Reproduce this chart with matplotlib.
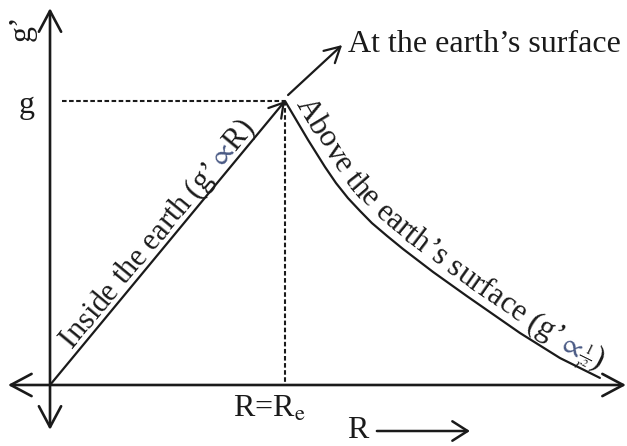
import matplotlib
matplotlib.use("Agg")
import matplotlib.pyplot as plt
import numpy as np
from matplotlib.font_manager import FontProperties

plt.rcParams["font.family"] = ["Liberation Serif", "DejaVu Serif"]
plt.rcParams["mathtext.fontset"] = "stix"

# g' against distance from the centre (R in units of R_e, g' in units of g)
r_inside = [0.0, 1.0]
g_inside = [0.0, 1.0]
r_above = [1.0, 1.098, 1.170, 1.217, 1.268, 1.319, 1.370, 1.434, 1.502,
           1.630, 1.774, 2.000, 2.170, 2.340]
g_above = [1.0, 0.863, 0.768, 0.711, 0.658, 0.613, 0.570, 0.525, 0.479,
           0.398, 0.313, 0.183, 0.095, 0.025]

INK = "#1a1a1a"
BLUE = "#4a5a85"
FS = 23
FS_PATH = 22.5

fig = plt.figure(figsize=(6.27, 4.46), dpi=100)
ax = fig.add_axes([0, 0, 1, 1])
ax.set_xlim(-0.2128, 2.4553)
ax.set_ylim(-0.2148, 1.3556)
ax.axis("off")

# axes with arrow heads
axis_style = "<->,head_length=0.75,head_width=0.4"
ax.annotate("", xy=(2.451, 0), xytext=(-0.179, 0),
            arrowprops=dict(arrowstyle=axis_style, lw=1.9, color=INK,
                            mutation_scale=20, shrinkA=0, shrinkB=0))
ax.annotate("", xy=(0, 1.327), xytext=(0, -0.158),
            arrowprops=dict(arrowstyle=axis_style, lw=1.9, color=INK,
                            mutation_scale=20, shrinkA=0, shrinkB=0))

# guide lines to the peak
ax.plot([0.05, 1.0], [1.0, 1.0], color=INK, lw=1.5, ls=(0, (2.2, 1.2)))
ax.plot([1.0, 1.0], [1.0, 0.0], color=INK, lw=1.5, ls=(0, (2.2, 1.2)))

# inside the earth: straight line up to the surface
ax.annotate("", xy=(r_inside[1], g_inside[1]), xytext=(r_inside[0], g_inside[0]),
            arrowprops=dict(arrowstyle="->,head_length=0.5,head_width=0.3", lw=1.6,
                            color=INK, mutation_scale=20, shrinkA=0, shrinkB=0))
# above the surface
ax.plot(r_above, g_above, color=INK, lw=1.6, solid_capstyle="round",
        solid_joinstyle="round")

# pointer to the surface value
ax.annotate("", xy=(1.243, 1.197), xytext=(1.013, 1.021),
            arrowprops=dict(arrowstyle="->,head_length=0.55,head_width=0.3", lw=1.6,
                            color=INK, mutation_scale=20, shrinkA=0, shrinkB=0))
ax.text(1.268, 1.173, "At the earth\u2019s surface", fontsize=FS, color=INK,
        ha="left", va="baseline")

ax.text(-0.1, 0.958, "g", fontsize=FS, color=INK, ha="center", va="baseline")
ax.text(-0.119, 1.257, "g\u2019", fontsize=FS, color=INK, ha="center", va="center",
        rotation=90)
ax.text(0.935, -0.113, "R=R$_\\mathrm{e}$", fontsize=FS, color=INK, ha="center",
        va="baseline")
ax.text(1.264, -0.187, "R", fontsize=FS, color=INK, ha="left", va="baseline")
ax.annotate("", xy=(1.787, -0.162), xytext=(1.391, -0.162),
            arrowprops=dict(arrowstyle="->,head_length=0.55,head_width=0.35", lw=1.8,
                            color=INK, mutation_scale=20, shrinkA=0, shrinkB=0))


def text_along(xs, ys, pieces, start, offset):
    fig.canvas.draw()
    renderer = fig.canvas.get_renderer()
    pts = ax.transData.transform(np.column_stack([xs, ys]))
    seg = np.diff(pts, axis=0)
    seglen = np.hypot(seg[:, 0], seg[:, 1])
    cum = np.concatenate([[0], np.cumsum(seglen)])

    def point_at(s):
        i = int(np.clip(np.searchsorted(cum, s) - 1, 0, len(seg) - 1))
        t = (s - cum[i]) / seglen[i]
        return pts[i] + t * seg[i]

    def width(txt, prop, math):
        if math:
            return renderer.get_text_width_height_descent(txt, prop, ismath=True)[0]
        w2 = renderer.get_text_width_height_descent("|" + txt + "|", prop, ismath=False)[0]
        w0 = renderer.get_text_width_height_descent("||", prop, ismath=False)[0]
        return w2 - w0

    inv = ax.transData.inverted()
    s = start
    for txt, size, color, math in pieces:
        prop = FontProperties(family=["Liberation Serif", "DejaVu Serif"], size=size)
        w = width(txt, prop, math)
        mid = s + w / 2
        d = point_at(mid + 10) - point_at(mid - 10)
        tang = d / np.hypot(*d)
        normal = np.array([-tang[1], tang[0]])
        x, y = inv.transform(point_at(mid) + normal * offset)
        ang = np.degrees(np.arctan2(tang[1], tang[0]))
        ax.text(x, y, txt, fontproperties=prop, color=color, rotation=ang,
                rotation_mode="anchor", ha="center", va="baseline")
        s += w


inside_label = [(c, 22, INK, False) for c in "Inside the earth (g\u2019"]
inside_label += [("$\\propto$", 21, BLUE, True), ("R", 22, INK, False),
                 (")", 22, INK, False)]
text_along(r_inside, g_inside, inside_label, start=42, offset=6)

above_label = [(c, FS_PATH, INK, False) for c in "Above the earth\u2019s surface (g\u2019"]
above_label += [("$\\propto$", FS_PATH - 2, BLUE, True), ("$\\frac{1}{r^2}$", 15, INK, True),
                (")", FS_PATH, INK, False)]
text_along(r_above, g_above, above_label, start=8, offset=8)

fig.savefig("out.png", dpi=100)
